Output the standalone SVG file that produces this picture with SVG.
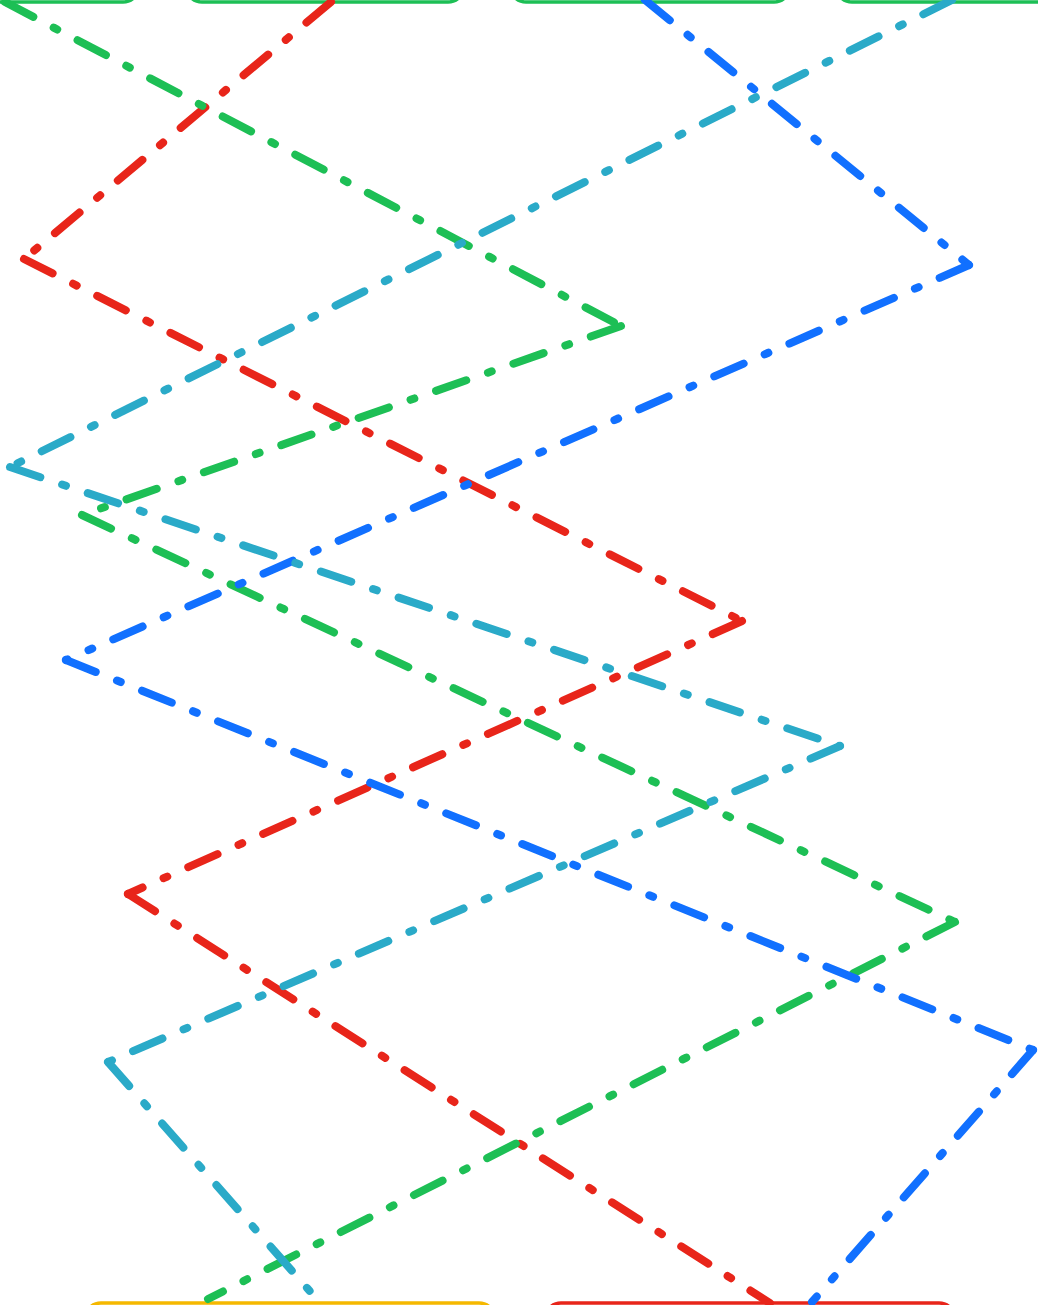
<svg xmlns="http://www.w3.org/2000/svg" width="1038" height="1305" viewBox="0 0 1038 1305">
<style>
.node{fill:#ffffff;stroke-width:3.5}
.g{stroke:#1dbf55}
.y{stroke:#f5b800}
.r{stroke:#e8251a}
.edge line{fill:none;stroke-width:8;stroke-linecap:round;stroke-dasharray:32 23 4 23}
.e-red{stroke:#e8251a}
.e-green{stroke:#1dbf55}
.e-blue{stroke:#1170ff}
.e-cyan{stroke:#2aaac8}
</style>
<rect width="1038" height="1305" fill="#ffffff"/>
<g id="node-top-1"><rect class="node g" x="-120" y="-60" width="259" height="62" rx="16"/></g>
<g id="node-top-2"><rect class="node g" x="186" y="-60" width="278" height="62" rx="16"/></g>
<g id="node-top-3"><rect class="node g" x="510" y="-60" width="280" height="62" rx="16"/></g>
<g id="node-top-4"><rect class="node g" x="836" y="-60" width="260" height="62" rx="16"/></g>
<g id="node-bottom-1"><rect class="node y" x="85" y="1303" width="410" height="60" rx="16"/></g>
<g id="node-bottom-2"><rect class="node r" x="545" y="1303" width="410" height="60" rx="16"/></g>
<g id="connectors">
<g class="edge e-red">
<line x1="331" y1="2" x2="24" y2="259"/>
<line x1="24" y1="259" x2="742" y2="621"/>
<line x1="742" y1="621" x2="128" y2="894"/>
<line x1="128" y1="894" x2="770" y2="1303"/>
</g>
<g class="edge e-green">
<line x1="5" y1="2" x2="621" y2="326"/>
<line x1="621" y1="326" x2="82" y2="515"/>
<line x1="82" y1="515" x2="955" y2="922"/>
<line x1="955" y1="922" x2="208" y2="1299"/>
</g>
<g class="edge e-blue">
<line x1="645" y1="0" x2="969" y2="265"/>
<line x1="969" y1="265" x2="66" y2="660"/>
<line x1="66" y1="660" x2="1033" y2="1050"/>
<line x1="1033" y1="1050" x2="812" y2="1302"/>
</g>
<g class="edge e-cyan">
<line x1="952" y1="0" x2="10" y2="467"/>
<line x1="10" y1="467" x2="840" y2="746"/>
<line x1="840" y1="746" x2="108" y2="1062"/>
<line x1="108" y1="1062" x2="315" y2="1297"/>
</g>
</g>
</svg>
